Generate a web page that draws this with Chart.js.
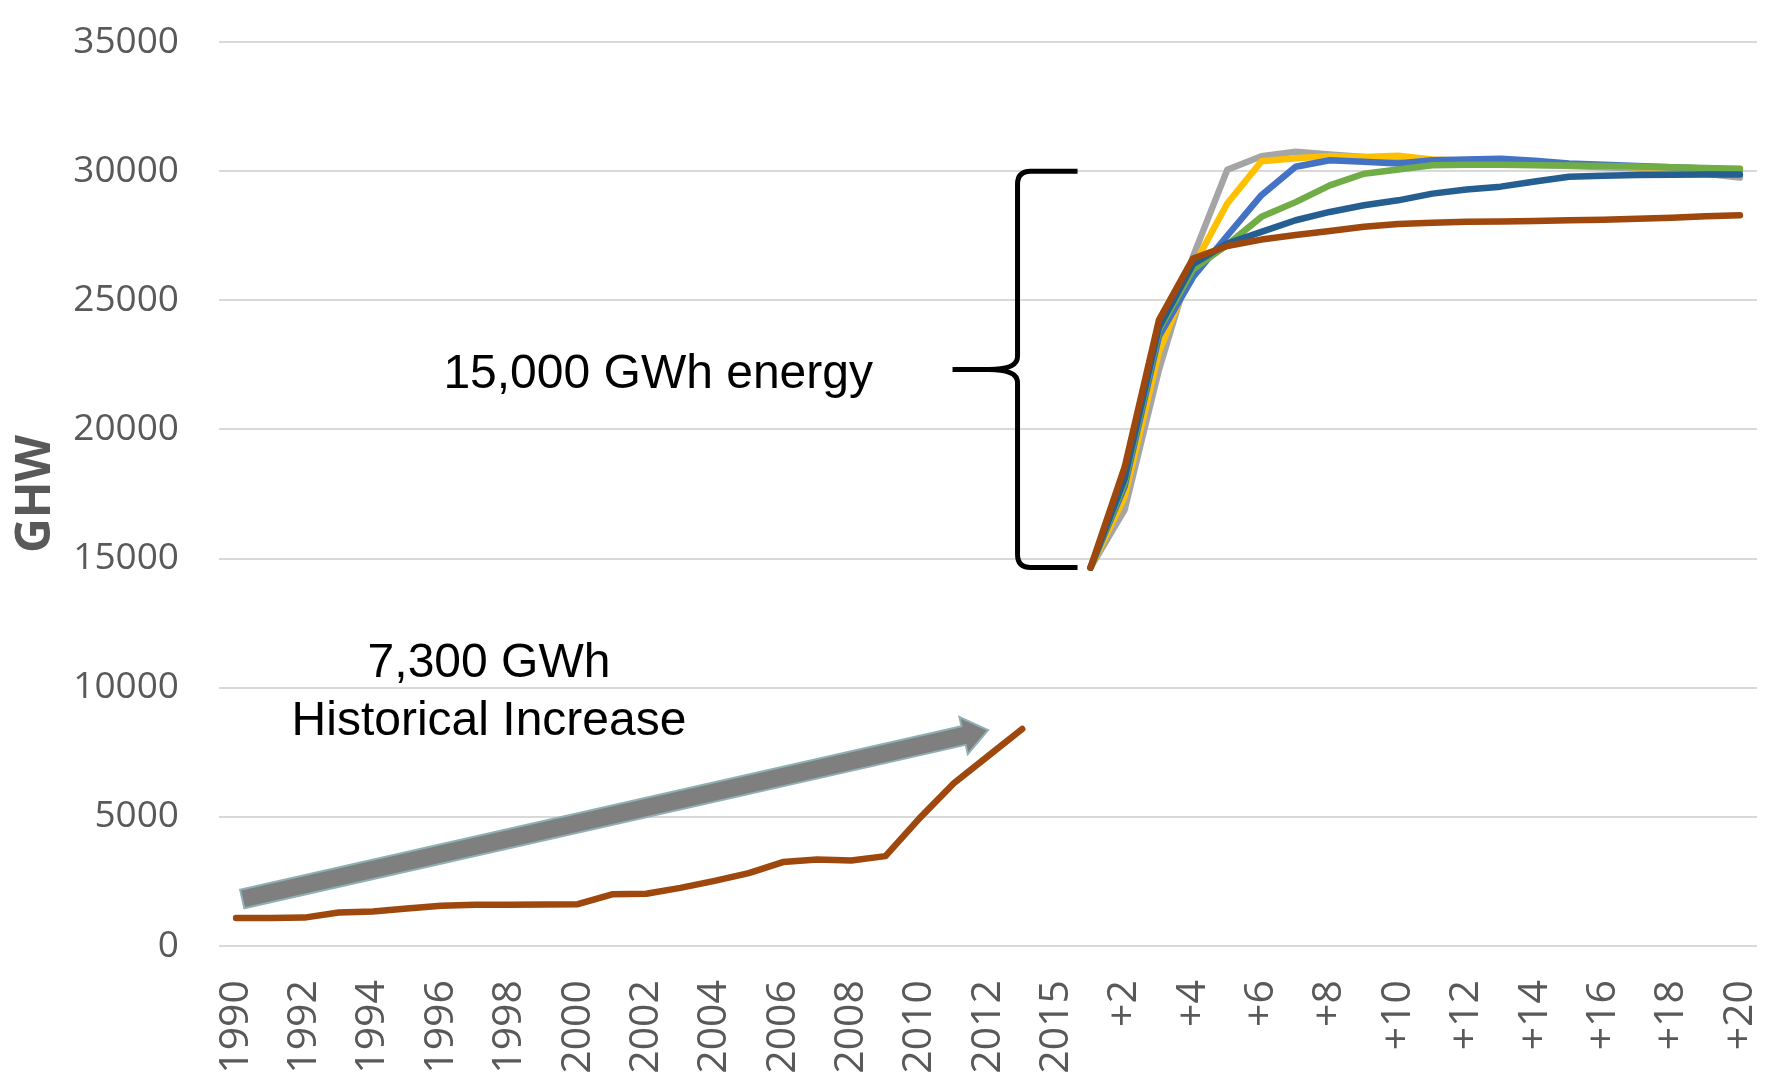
<!DOCTYPE html>
<html>
<head>
<meta charset="utf-8">
<script src="https://cdn.jsdelivr.net/npm/chart.js@4.4.1/dist/chart.umd.min.js"></script>
<style>
  html, body { margin: 0; padding: 0; background: #ffffff; }
  canvas { display: block; }
</style>
</head>
<body>
<canvas id="chart" width="1783" height="1075"></canvas>
<script>
// Category axis: historical years, then the base year and forecast years
const categories = [
  '1990','1991','1992','1993','1994','1995','1996','1997','1998','1999',
  '2000','2001','2002','2003','2004','2005','2006','2007','2008','2009',
  '2010','2011','2012','2013','2015',
  '+1','+2','+3','+4','+5','+6','+7','+8','+9','+10',
  '+11','+12','+13','+14','+15','+16','+17','+18','+19','+20'
];

// Y axis ticks (GWh)
const yMin = 0;
const yMax = 35000;
const yStep = 5000;

// Historical annual energy, 1990-2013
const historical = [
  1080, 1080, 1100, 1300, 1340, 1450, 1560, 1600, 1600, 1610,
  1620, 2000, 2020, 2250, 2520, 2820, 3250, 3350, 3310, 3480,
  4950, 6300, 7350, 8400
];

// Forecast scenarios, years +1 to +20
const scenarioBrown = [14650, 18550, 24230, 26620, 27100, 27350, 27530, 27680, 27850, 27950,
                       28000, 28040, 28050, 28070, 28100, 28120, 28160, 28200, 28250, 28290];
const scenarioNavy  = [14650, 18100, 23950, 26400, 27200, 27650, 28100, 28420, 28680, 28870,
                       29130, 29290, 29400, 29600, 29780, 29820, 29850, 29860, 29870, 29870];
const scenarioGreen = [14650, 17950, 23850, 26200, 27150, 28230, 28800, 29450, 29900, 30060,
                       30230, 30250, 30250, 30230, 30220, 30200, 30180, 30150, 30120, 30080];
const scenarioBlue  = [14650, 17800, 23600, 25900, 27500, 29070, 30170, 30420, 30360, 30300,
                       30420, 30450, 30480, 30400, 30300, 30250, 30200, 30150, 30100, 30050];
const scenarioGold  = [14650, 17400, 23000, 26300, 28750, 30380, 30500, 30580, 30550, 30600,
                       30450, 30400, 30350, 30300, 30250, 30200, 30150, 30150, 30100, 30100];
const scenarioGray  = [14650, 16900, 22300, 26700, 30050, 30580, 30750, 30640, 30550, 30450,
                       30350, 30300, 30300, 30250, 30200, 30150, 30100, 30000, 29900, 29750];

// Spread a series over the full category axis
const forecastStart = categories.indexOf('+1');
const alignHistory = arr => categories.map((_, i) => (i < arr.length ? arr[i] : null));
const alignForecast = arr => categories.map((_, i) => (i >= forecastStart ? arr[i - forecastStart] : null));

const tickColor = '#595959';
const lineStyle = {
  borderWidth: 6.5,
  pointRadius: 0,
  pointHoverRadius: 0,
  tension: 0,
  fill: false,
  spanGaps: false,
  borderCapStyle: 'round',
  borderJoinStyle: 'round'
};

// Text, brace and arrow drawn on top of the plot
const notesPlugin = {
  id: 'notes',
  afterDatasetsDraw(chart) {
    const { ctx, scales: { x, y } } = chart;
    ctx.save();

    // "15,000 GWh energy" label
    ctx.fillStyle = '#000000';
    ctx.font = '48px "Liberation Sans", Arial, sans-serif';
    ctx.textAlign = 'center';
    ctx.textBaseline = 'alphabetic';
    ctx.fillText('15,000 GWh energy', x.getPixelForValue(12.35), y.getPixelForValue(21600));

    // Historical increase label
    ctx.fillText('7,300 GWh', x.getPixelForValue(7.4), y.getPixelForValue(10400));
    ctx.fillText('Historical Increase', x.getPixelForValue(7.4), y.getPixelForValue(8150));

    // Curly brace spanning the forecast growth
    const xs = x.getPixelForValue(forecastStart);
    const top = y.getPixelForValue(30000);
    const bottom = y.getPixelForValue(scenarioBrown[0]);
    const mid = (top + bottom) / 2;
    const armEnd = xs - 13;
    const spine = xs - 73;
    const tip = xs - 138;
    const r = 13;
    ctx.strokeStyle = '#000000';
    ctx.lineWidth = 5;
    ctx.lineCap = 'butt';
    ctx.lineJoin = 'round';
    ctx.beginPath();
    ctx.moveTo(armEnd, top);
    ctx.lineTo(spine + r, top);
    ctx.quadraticCurveTo(spine, top, spine, top + r);
    ctx.lineTo(spine, mid - r);
    ctx.quadraticCurveTo(spine, mid, spine - 2.2 * r, mid);
    ctx.lineTo(tip, mid);
    ctx.moveTo(spine - 2.2 * r, mid);
    ctx.quadraticCurveTo(spine, mid, spine, mid + r);
    ctx.lineTo(spine, bottom - r);
    ctx.quadraticCurveTo(spine, bottom, spine + r, bottom);
    ctx.lineTo(armEnd, bottom);
    ctx.stroke();

    // Arrow showing the historical trend
    const x0 = x.getPixelForValue(0.18), y0 = y.getPixelForValue(1820);
    const x1 = x.getPixelForValue(22), y1 = y.getPixelForValue(8360);
    const ang = Math.atan2(y1 - y0, x1 - x0);
    const len = Math.hypot(x1 - x0, y1 - y0);
    const halfBody = 9.5, halfHead = 19, headLen = 25;
    ctx.translate(x0, y0);
    ctx.rotate(ang);
    ctx.beginPath();
    ctx.moveTo(0, -halfBody);
    ctx.lineTo(len - headLen, -halfBody);
    ctx.lineTo(len - headLen, -halfHead);
    ctx.lineTo(len, 0);
    ctx.lineTo(len - headLen, halfHead);
    ctx.lineTo(len - headLen, halfBody);
    ctx.lineTo(0, halfBody);
    ctx.closePath();
    ctx.fillStyle = '#7f7f7f';
    ctx.fill();
    ctx.lineWidth = 2;
    ctx.lineJoin = 'miter';
    ctx.strokeStyle = '#8fb0b5';
    ctx.stroke();

    ctx.restore();
  }
};

new Chart(document.getElementById('chart'), {
  type: 'line',
  data: {
    labels: categories,
    datasets: [
      { label: 'Scenario 6', data: alignForecast(scenarioBrown), borderColor: '#9e480e', ...lineStyle },
      { label: 'Scenario 5', data: alignForecast(scenarioNavy),  borderColor: '#255e91', ...lineStyle },
      { label: 'Scenario 4', data: alignForecast(scenarioGreen), borderColor: '#70ad47', ...lineStyle },
      { label: 'Scenario 3', data: alignForecast(scenarioBlue),  borderColor: '#4472c4', ...lineStyle },
      { label: 'Scenario 2', data: alignForecast(scenarioGold),  borderColor: '#ffc000', ...lineStyle },
      { label: 'Scenario 1', data: alignForecast(scenarioGray),  borderColor: '#a5a5a5', ...lineStyle },
      { label: 'Historical', data: alignHistory(historical),     borderColor: '#9e480e', ...lineStyle }
    ]
  },
  options: {
    responsive: false,
    animation: false,
    devicePixelRatio: 1,
    layout: { padding: { top: 42, right: 26, left: 0, bottom: 0 } },
    plugins: {
      legend: { display: false },
      tooltip: { enabled: false },
      title: { display: false }
    },
    scales: {
      x: {
        type: 'category',
        offset: true,
        grid: { display: false, drawTicks: false },
        border: { display: false },
        ticks: {
          autoSkip: false,
          maxRotation: 90,
          minRotation: 90,
          padding: 34,
          color: tickColor,
          font: { family: '"Open Sans", sans-serif', size: 41 },
          callback: (value, index) => (index % 2 === 0 ? categories[index] : '')
        },
        afterFit: scale => {
          scale.height = 129;
          scale.paddingLeft = 0;
          scale.paddingRight = 0;
        }
      },
      y: {
        min: yMin,
        max: yMax,
        grid: { color: '#d9d9d9', lineWidth: 2, drawTicks: false },
        border: { display: false },
        ticks: {
          stepSize: yStep,
          padding: 40,
          color: tickColor,
          font: { family: '"Open Sans", sans-serif', size: 37 },
          callback: value => String(value)
        },
        title: {
          display: true,
          text: 'GHW',
          color: tickColor,
          padding: 8,
          font: { family: '"Open Sans", sans-serif', size: 48, weight: 'bold', lineHeight: 1.2 }
        },
        afterFit: scale => {
          scale.width = 219;
          scale.paddingTop = 0;
          scale.paddingBottom = 0;
        }
      }
    }
  },
  plugins: [notesPlugin]
});
</script>
</body>
</html>
